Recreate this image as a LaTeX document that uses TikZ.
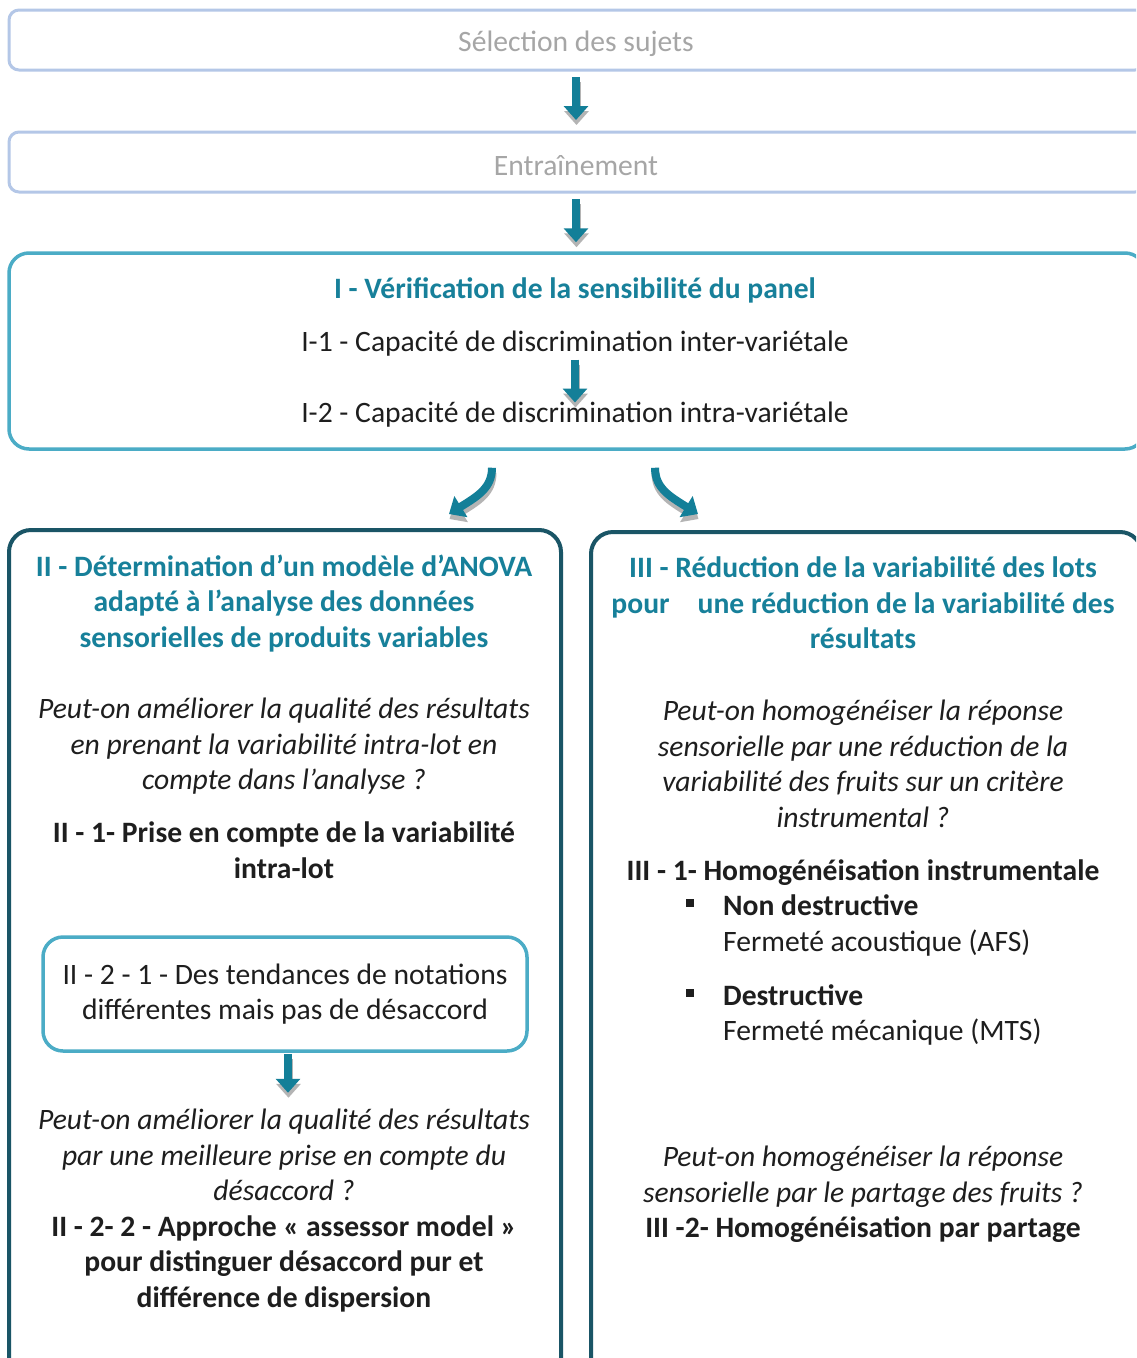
\documentclass[tikz,border=0pt]{standalone}
\usepackage{fontspec}
\setmainfont{Carlito}
\usetikzlibrary{arrows.meta,calc}
\definecolor{greyline}{HTML}{B4C7E7}
\definecolor{greytext}{HTML}{A6A6A6}
\definecolor{arrowc}{HTML}{137F98}
\definecolor{shadowc}{HTML}{B4B4B4}
\definecolor{lightteal}{HTML}{4BACC6}
\definecolor{titlec}{HTML}{17809A}
\definecolor{darkteal}{HTML}{1A5566}
\definecolor{ink}{HTML}{1E1E1E}
\newcommand\flowarrow[1]{%
  \draw[arr, draw=shadowc, transform canvas={shift={(0.5pt,-5pt)}}] #1;
  \draw[arr, draw=arrowc] #1;}
\newcommand\fsz{\fontsize{29.6}{35.5}\selectfont}
\begin{document}
\begin{tikzpicture}[x=1pt,y=-1pt,
  boxtxt/.style={inner sep=0pt, align=center, text=ink, font=\fsz},
  txt/.style={boxtxt, yshift=-2.5pt},
  ttl/.style={txt, text=titlec, font=\fsz\bfseries},
  bld/.style={txt, font=\fsz\bfseries},
  itl/.style={txt, font=\fsz\itshape},
  gtxt/.style={txt, text=greytext, yshift=-1.5pt},
  greybox/.style={draw=greyline, line width=3pt, rounded corners=10pt},
  tealbox/.style={draw=lightteal, line width=3.5pt, rounded corners=20pt},
  darkbox/.style={draw=darkteal, line width=4pt, rounded corners=22pt},
  arr/.style={line width=8pt, -{Triangle[width=24pt,length=14pt]}}
]
\useasboundingbox (0,0) rectangle (1136,1358);
\clip (0,0) rectangle (1136,1358);
\fill[white] (0,0) rectangle (1136,1358);

% top boxes
\node[greybox, minimum width=1136pt, minimum height=60pt] (sel) at (577,40) {};
\node[gtxt] (selt) at (576,40) {Sélection des sujets};
\node[greybox, minimum width=1136pt, minimum height=60pt] (entr) at (577,162) {};
\node[gtxt] (entrt) at (576,162) {Entraînement};

% box I
\node[tealbox, minimum width=1136pt, minimum height=196pt] (boxI) at (577,351) {};
\node[ttl] (tI) at (575,288) {I - Vérification de la sensibilité du panel};
\node[txt] (l11) at (575,341) {I-1 - Capacité de discrimination inter-variétale};
\node[txt] (l12) at (575,412) {I-2 - Capacité de discrimination intra-variétale};

% boxes II and III
\node[darkbox, minimum width=552pt, minimum height=850pt] (boxII) at (285,955) {};
\node[darkbox, minimum width=551pt, minimum height=848pt] (boxIII) at (866.5,956) {};

% box II content
\node[ttl] (tII) at (284,601) {II - Détermination d’un modèle d’ANOVA\\adapté à l’analyse des données\\sensorielles de produits variables};
\node[itl] (qII1) at (284,744) {Peut-on améliorer la qualité des résultats\\en prenant la variabilité intra-lot en\\compte dans l’analyse ?};
\node[bld] (II1) at (284,847.5) {II - 1- Prise en compte de la variabilité\\intra-lot};
\node[tealbox, boxtxt, minimum width=484pt, minimum height=114pt] (II21) at (285,994) {II - 2 - 1 - Des tendances de notations\\différentes mais pas de désaccord};
\node[itl] (qII2) at (284,1152.5) {Peut-on améliorer la qualité des résultats\\par une meilleure prise en compte du\\désaccord ?};
\node[bld] (II22) at (284,1261) {II - 2- 2 - Approche « assessor model »\\pour distinguer désaccord pur et\\différence de dispersion};

% box III content
\node[ttl] (tIII) at (863,600.5) {III - Réduction de la variabilité des lots\\pour\hspace{28pt}une réduction de la variabilité des\\résultats};
\node[itl] (qIII1) at (863,761.5) {Peut-on homogénéiser la réponse\\sensorielle par une réduction de la\\variabilité des fruits sur un critère\\instrumental ?};
\node[bld] (III1) at (863,870) {III - 1- Homogénéisation instrumentale};
\node[txt, align=left, anchor=west] (nd) at (723,923) {\textbf{Non destructive}\\Fermeté acoustique (AFS)};
\node[txt, align=left, anchor=west] (de) at (723,1012.5) {\textbf{Destructive}\\Fermeté mécanique (MTS)};
\fill[ink] (686,899) rectangle (694,907);
\fill[ink] (686,989) rectangle (694,997);
\node[itl] (qIII2) at (863,1174) {Peut-on homogénéiser la réponse\\sensorielle par le partage des fruits ?};
\node[bld] (III2) at (863,1227) {III -2- Homogénéisation par partage};

% arrows
\flowarrow{($(sel.south)+(-1,5.5)$) -- ($(entr.north)+(-1,-10.5)$)}
\flowarrow{($(entr.south)+(-1,5.5)$) -- ($(boxI.north)+(-1,-9)$)}
\flowarrow{($(l11.center)+(0,16)$) -- ($(l12.center)+(0,-12)$)}
\flowarrow{($(boxI.south)+(-85,17)$) .. controls ($(boxI.south)+(-85,37)$) and ($(boxII.north)+(193,-32)$) .. ($(boxII.north)+(164,-14)$)}
\flowarrow{($(boxI.south)+(78,17)$) .. controls ($(boxI.south)+(78,37)$) and ($(boxIII.north)+(-197.5,-34)$) .. ($(boxIII.north)+(-168.5,-16)$)}
\flowarrow{($(II21.south)+(3,1)$) -- ($(II21.south)+(3,40)$)}
\end{tikzpicture}
\end{document}
